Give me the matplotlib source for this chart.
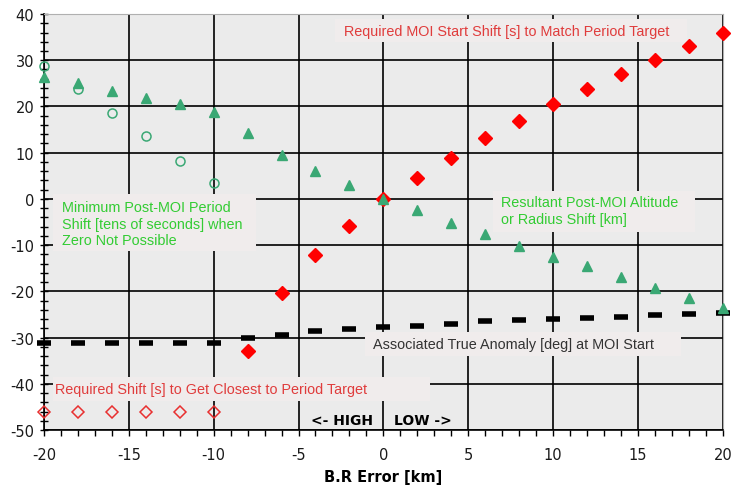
import matplotlib
matplotlib.use("Agg")
import matplotlib.pyplot as plt
from matplotlib.ticker import MultipleLocator
from matplotlib.patches import Rectangle
import numpy as np

plt.rcParams['axes.unicode_minus'] = False

# B.R error values (km)
br_err = np.arange(-20, 21, 2)

# Resultant Post-MOI Altitude or Radius Shift [km]
alt_shift = [26.4, 25.0, 23.3, 21.8, 20.5, 18.8, 14.2, 9.4, 6.1, 3.0, 0.0,
             -2.4, -5.2, -7.5, -10.1, -12.5, -14.6, -17.0, -19.3, -21.4, -23.5]

# Minimum Post-MOI Period Shift [tens of seconds] (only where zero not possible)
br_low = [-20, -18, -16, -14, -12, -10]
min_period_shift = [28.7, 23.7, 18.5, 13.5, 8.3, 3.4]

# Required MOI start shift [s] to match period target
br_match = np.arange(-8, 21, 2)
moi_shift = [-32.8, -20.3, -12.1, -5.9, 0.0, 4.5, 8.9, 13.2, 16.8, 20.5,
             23.8, 27.0, 30.0, 33.0, 36.0]

# Required shift [s] to get closest to period target
closest_shift = [-46.0, -46.0, -46.0, -46.0, -46.0, -46.0]

# Associated true anomaly [deg] at MOI start
true_anom = [-31.25, -31.25, -31.25, -31.25, -31.25, -31.25, -30.2, -29.5, -28.6,
             -28.1, -27.65, -27.4, -27.1, -26.5, -26.3, -26.0, -25.7, -25.5,
             -25.2, -25.0, -24.6]

green = '#3aa874'
red = '#ff0000'
boxcol = '#f0ecec'
tfont = 'Liberation Sans'
fs = 10.4

fig = plt.figure(figsize=(7.31, 4.89), dpi=100)
ax = fig.add_axes([0.060, 0.1186, 0.929, 0.8507])
ax.set_facecolor('#ebebeb')

ax.plot(br_err, true_anom, ls='none', marker='_', ms=10, mew=4, color='black', zorder=3, clip_on=False)
ax.plot(br_low, min_period_shift, ls='none', marker='o', ms=6.5, mfc='none', mec=green, mew=1.1,
        zorder=3, clip_on=False)
ax.plot(br_low, closest_shift, ls='none', marker='D', ms=6.5, mfc='none', mec='#e83030', mew=1.1,
        zorder=3, clip_on=False)
ax.plot(br_match, moi_shift, ls='none', marker='D', ms=7, color=red, zorder=3, clip_on=False)
ax.plot(br_err, alt_shift, ls='none', marker='^', ms=7, color=green, zorder=4, clip_on=False)

ax.set_xlim(-20, 20)
ax.set_ylim(-50, 40)
ax.xaxis.set_major_locator(MultipleLocator(5))
ax.xaxis.set_minor_locator(MultipleLocator(1))
ax.yaxis.set_major_locator(MultipleLocator(10))
ax.yaxis.set_minor_locator(MultipleLocator(2))
ax.grid(True, which='major', color='black', lw=1.2, zorder=1)
ax.set_axisbelow(True)

ax.tick_params(axis='x', which='both', direction='out', length=4, width=1, labelsize=10.5,
               labelcolor='#1a1a1a', pad=8)
ax.tick_params(axis='y', which='both', direction='inout', length=6, width=1, labelsize=10.5,
               labelcolor='#1a1a1a', pad=4)
for s in ['top', 'right']:
    ax.spines[s].set_color('#b0b0b0')
for s in ['left', 'bottom']:
    ax.spines[s].set_color('black')
    ax.spines[s].set_linewidth(1.2)

ax.set_xlabel('B.R Error [km]', fontsize=10.5, fontweight='bold', labelpad=5)

# label background boxes (x0, y0, x1, y1 in data units)
boxes = [(-2.86, 33.9, 17.88, 38.9),
         (-19.47, -11.28, -7.51, 1.06),
         (6.45, -7.17, 18.35, 1.7),
         (-1.09, -34.0, 17.53, -28.8),
         (-19.47, -43.7, 2.74, -38.5)]
for x0, y0, x1, y1 in boxes:
    ax.add_patch(Rectangle((x0, y0), x1 - x0, y1 - y0, facecolor=boxcol, edgecolor='none', zorder=2))

ax.text(-2.35, 36.3, 'Required MOI Start Shift [s] to Match Period Target', color='#e03c3c',
        fontsize=fs, family=tfont, va='center', ha='left', zorder=5)
ax.text(-18.95, -0.2, 'Minimum Post-MOI Period\nShift [tens of seconds] when\nZero Not Possible',
        color='#33cc33', fontsize=fs, family=tfont, va='top', ha='left', linespacing=1.25, zorder=5)
ax.text(6.9, 0.8, 'Resultant Post-MOI Altitude\nor Radius Shift [km]', color='#33cc33',
        fontsize=fs, family=tfont, va='top', ha='left', linespacing=1.25, zorder=5)
ax.text(-0.6, -31.4, 'Associated True Anomaly [deg] at MOI Start', color='#333333',
        fontsize=fs, family=tfont, va='center', ha='left', zorder=5)
ax.text(-19.35, -41.1, 'Required Shift [s] to Get Closest to Period Target', color='#e03c3c',
        fontsize=fs, family=tfont, va='center', ha='left', zorder=5)
ax.text(-0.6, -47.8, '<- HIGH', fontsize=10, fontweight='bold', ha='right', va='center', zorder=5)
ax.text(0.65, -47.8, 'LOW ->', fontsize=10, fontweight='bold', ha='left', va='center', zorder=5)

fig.savefig('out.png', dpi=100)
